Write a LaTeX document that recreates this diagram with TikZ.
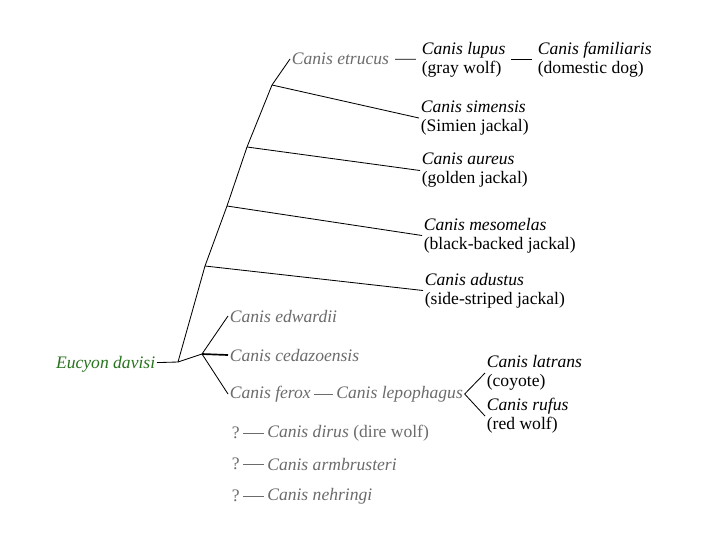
\documentclass[tikz,border=0pt]{standalone}
\usepackage{fontspec}
\setmainfont{Liberation Serif}
\usetikzlibrary{positioning}
\definecolor{fossilgray}{gray}{0.42}
\definecolor{eucyongreen}{RGB}{40,115,30}
\begin{document}
\begin{tikzpicture}[x=0.025cm,y=-0.025cm,line width=0.6pt,
	living/.style={anchor=west,inner sep=1pt,align=left,font=\fontsize{12.5}{13.6}\selectfont},
	fossil/.style={anchor=west,inner sep=1pt,text=fossilgray,font=\fontsize{12.5}{13.6}\selectfont\itshape},
	query/.style={fossil,font=\fontsize{12.5}{13.6}\selectfont},
	link/.style={shorten <=3pt,shorten >=3pt},
	dashlink/.style={shorten <=1pt,shorten >=1pt,line width=0.5pt,draw=fossilgray}]

	\useasboundingbox (0,0) rectangle (720,540);

	\node[fossil,text=eucyongreen,anchor=east] (davisi) at (157,364) {Eucyon davisi};
	\coordinate (root) at (178,362);
	\coordinate (b1) at (205,266);
	\coordinate (b2) at (227,206);
	\coordinate (b3) at (247,147);
	\coordinate (b4) at (272,85);
	\coordinate (fork) at (202,354);

	\node[fossil] (etrucus) at (290,59) {Canis etrucus};
	\node[living] (lupus) at (420,59.5) {\textit{Canis lupus}\\(gray wolf)};
	\node[living] (familiaris) at (536,59.5) {\textit{Canis familiaris}\\(domestic dog)};
	\node[living] (simensis) at (419,118) {\textit{Canis simensis}\\(Simien jackal)};
	\node[living] (aureus) at (420,170.5) {\textit{Canis aureus}\\(golden jackal)};
	\node[living] (mesomelas) at (422,235.5) {\textit{Canis mesomelas}\\(black-backed jackal)};
	\node[living] (adustus) at (423,290.5) {\textit{Canis adustus}\\(side-striped jackal)};

	\draw (davisi) -- (root) -- (b1) -- (b2) -- (b3) -- (b4) -- (etrucus.west);
	\draw[link] (etrucus) -- (lupus);
	\draw[link] (lupus) -- (familiaris);
	\draw (b4) -- (simensis.west);
	\draw (b3) -- (aureus.west);
	\draw (b2) -- (mesomelas.west);
	\draw (b1) -- (adustus.west);

	% older branch
	\node[fossil] (edwardii) at (228,316) {Canis edwardii};
	\node[fossil] (cedazoensis) at (228,355) {Canis cedazoensis};
	\node[fossil] (ferox) at (228,394) {Canis ferox};
	\node[fossil,right=0.55cm of ferox] (lepophagus) {Canis lepophagus};
	\node[living] (latrans) at (485,373) {\textit{Canis latrans}\\(coyote)};
	\node[living] (rufus) at (485,416) {\textit{Canis rufus}\\(red wolf)};

	\draw (root) -- (fork);
	\draw (fork) -- (edwardii.west);
	\draw[line width=1.2pt] (fork) -- (cedazoensis.west);
	\draw (fork) -- (ferox.west);
	\draw[dashlink] (ferox) -- (lepophagus);
	\draw (latrans.west) -- (lepophagus.east) -- (rufus.west);

	% unplaced
	\node[query] (q1) at (230,433) {?};
	\node[fossil,right=0.6cm of q1] (dirus) {Canis dirus \upshape(dire wolf)};
	\node[query] (q2) at (230,464) {?};
	\node[fossil,right=0.6cm of q2] (armbrusteri) {Canis armbrusteri};
	\node[query] (q3) at (230,496) {?};
	\node[fossil,right=0.6cm of q3] (nehringi) {Canis nehringi};
	\draw[dashlink] (q1) -- (dirus);
	\draw[dashlink] (q2) -- (armbrusteri);
	\draw[dashlink] (q3) -- (nehringi);

\end{tikzpicture}
\end{document}
